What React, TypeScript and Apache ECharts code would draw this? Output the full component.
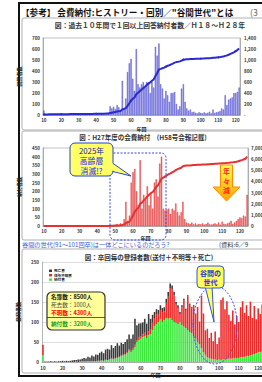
import React, { useEffect, useRef } from "react";
import * as echarts from "echarts";

const FF = '"Noto Sans CJK JP", "Noto Sans", sans-serif';

const range = (a: number, b: number) => { const r: string[] = []; for (let i = a; i <= b; i++) r.push(String(i)); return r; };
const cats1 = range(10, 122);
const cats2 = range(10, 124);
const cats3 = range(10, 125);

// Chart 1: respondents per class (bars) and cumulative (line)
const bars1 = [
  40, 8, 5, 4, 5, 6, 4, 5, 4, 5,
  5, 4, 6, 5, 4, 5, 6, 5, 4, 6,
  5, 4, 5, 6, 4, 5, 6, 5, 7, 6,
  5, 8, 6, 7, 10, 18, 8, 10, 80, 60,
  75, 55, 90, 70, 40, 310, 60, 150, 390, 470,
  510, 330, 220, 600, 280, 250, 280, 300, 250, 300,
  280, 200, 300, 250, 620, 540, 650, 280, 240, 150,
  220, 180, 120, 200, 200, 210, 100, 50, 80, 240,
  280, 120, 60, 40, 50, 25, 30, 20, 15, 25,
  20, 15, 25, 15, 20, 30, 15, 50, 20, 25,
  30, 35, 60, 50, 180, 90, 140, 150, 160, 200,
  200, 210, 250,
];
const line1 = [
  10, 11, 11, 12, 12, 12, 13, 13, 13, 14,
  14, 14, 15, 15, 15, 16, 16, 16, 17, 17,
  17, 18, 18, 18, 19, 19, 19, 20, 20, 21,
  21, 22, 22, 23, 24, 25, 26, 27, 35, 40,
  48, 54, 63, 70, 74, 105, 111, 126, 165, 212,
  263, 296, 318, 378, 406, 431, 459, 489, 514, 544,
  572, 592, 622, 647, 709, 763, 828, 838, 850, 862,
  880, 895, 905, 920, 935, 952, 962, 967, 975, 990,
  1005, 1010, 1012, 1014, 1016, 1018, 1020, 1021, 1022, 1024,
  1025, 1026, 1028, 1030, 1032, 1034, 1036, 1040, 1042, 1045,
  1048, 1052, 1058, 1062, 1075, 1083, 1095, 1110, 1125, 1140,
  1160, 1180, 1210,
];

// Chart 2: H27 payments (bars) and cumulative (line)
const bars2 = [
  2, 1, 2, 1, 2, 1, 1, 2, 1, 2,
  1, 2, 1, 2, 1, 2, 2, 1, 2, 1,
  2, 1, 2, 2, 1, 2, 1, 2, 2, 1,
  2, 2, 1, 2, 3, 2, 3, 2, 4, 5,
  8, 12, 6, 15, 10, 40, 140, 30, 60, 250,
  310, 330, 200, 120, 380, 100, 180, 150, 230, 120,
  190, 100, 250, 270, 170, 360, 400, 100, 90, 95,
  100, 70, 100, 90, 130, 80, 60, 80, 140, 40,
  20, 15, 12, 20, 10, 15, 8, 12, 10, 15,
  8, 12, 20, 10, 8, 12, 15, 10, 20, 8,
  25, 12, 10, 15, 20, 30, 12, 20, 30, 40,
  50, 45, 60, 55, 180,
];
const line2 = [
  0, 0, 0, 0, 0, 0, 0, 0, 0, 0,
  0, 0, 0, 0, 0, 0, 0, 0, 0, 0,
  0, 0, 0, 0, 0, 0, 0, 0, 0, 0,
  0, 0, 0, 0, 5, 5, 10, 10, 15, 20,
  30, 40, 50, 70, 90, 140, 280, 330, 400, 650,
  950, 1300, 1500, 1650, 2000, 2100, 2300, 2450, 2650, 2800,
  2950, 3050, 3250, 3500, 3650, 3950, 4250, 4350, 4450, 4550,
  4650, 4720, 4820, 4900, 5020, 5100, 5160, 5230, 5360, 5400,
  5420, 5430, 5440, 5460, 5470, 5480, 5490, 5500, 5505, 5515,
  5520, 5530, 5545, 5550, 5560, 5570, 5580, 5590, 5605, 5610,
  5630, 5640, 5650, 5665, 5685, 5710, 5720, 5740, 5770, 5810,
  5860, 5910, 5970, 6030, 6230,
];

// Chart 3: registered members per class (stacked)
const paid3 = [
  17, 0, 0, 0, 0, 0, 0, 0, 0, 0,
  0, 0, 0, 0, 0, 0, 0, 1, 0, 1,
  1, 1, 1, 2, 1, 2, 2, 2, 3, 3,
  4, 3, 5, 5, 6, 8, 7, 9, 10, 12,
  14, 16, 18, 22, 28, 25, 30, 37, 50, 55,
  58, 62, 65, 60, 67, 70, 80, 90, 95, 100,
  108, 100, 105, 110, 108, 110, 105, 100, 98, 95,
  100, 92, 88, 85, 80, 75, 72, 65, 58, 50,
  45, 35, 25, 18, 12, 10, 8, 7, 6, 5,
  6, 5, 6, 7, 7, 8, 8, 9, 9, 10,
  10, 12, 12, 13, 14, 15, 16, 18, 20, 22,
  24, 25, 26, 28, 30, 30,
];
const unknown3 = [
  26, 0, 0, 0, 0, 0, 0, 0, 0, 0,
  0, 0, 0, 0, 0, 0, 0, 0, 0, 0,
  0, 0, 0, 0, 0, 0, 0, 0, 0, 0,
  0, 0, 1, 0, 1, 1, 1, 1, 2, 1,
  2, 2, 2, 3, 3, 3, 4, 6, 5, 6,
  6, 7, 8, 6, 10, 12, 18, 20, 25, 18,
  22, 25, 22, 38, 55, 75, 76, 66, 45, 40,
  20, 45, 66, 45, 84, 68, 62, 75, 61, 85,
  55, 130, 95, 60, 70, 50, 65, 45, 70, 40,
  55, 150, 155, 125, 145, 110, 95, 120, 85, 105,
  90, 125, 140, 110, 128, 100, 135, 92, 120, 85,
  110, 95, 118, 90, 105, 95,
];
const dead3 = [
  0, 1, 1, 1, 2, 1, 2, 1, 2, 2,
  3, 2, 3, 2, 3, 4, 5, 4, 6, 5,
  7, 9, 8, 11, 10, 14, 12, 17, 15, 20,
  22, 19, 25, 28, 24, 33, 27, 30, 35, 28,
  32, 27, 30, 32, 38, 30, 35, 65, 37, 35,
  33, 30, 35, 30, 43, 26, 20, 15, 12, 12,
  12, 10, 10, 10, 12, 11, 10, 9, 7, 7,
  5, 5, 4, 3, 3, 3, 3, 2, 2, 2,
  1, 1, 1, 1, 1, 0, 0, 0, 0, 0,
  0, 0, 0, 0, 0, 0, 0, 0, 0, 0,
  0, 0, 0, 0, 0, 0, 0, 0, 0, 0,
  0, 0, 0, 0, 0, 0,
];

const LBL = { fontSize: 4.5, color: "#333", fontFamily: FF, fontWeight: "bold" as const };

const xAx = (gridIndex: number, data: string[], margin: number, nameGap: number) => ({
  type: "category", gridIndex, data, name: "年回", nameLocation: "middle", nameGap,
  nameTextStyle: { fontSize: 5, fontWeight: "bold", color: "#222", fontFamily: FF, lineHeight: 5 },
  axisLine: { lineStyle: { color: "#888", width: 0.6 } },
  axisTick: { show: false },
  axisLabel: { ...LBL, margin, lineHeight: 5, interval: (_i: number, v: string) => Number(v) % 10 === 0 },
});

const yAx = (gridIndex: number, max: number, interval: number, position: string, extra: any = {}) => ({
  type: "value", gridIndex, min: 0, max, interval, position,
  axisLine: { show: true, lineStyle: { color: "#888", width: 0.6 } },
  axisTick: { show: false },
  splitLine: { show: false },
  axisLabel: { ...LBL, margin: 3 },
  nameLocation: "middle", nameRotate: 90,
  nameTextStyle: { fontSize: 5, fontWeight: "bold", color: "#222", fontFamily: FF },
  ...extra,
});

const txt = (x: number, y: number, text: string, size: number, fill: string, extra: any = {}) => ({
  type: "text", x, y, z: 60,
  style: { text, fontSize: size, fill, fontFamily: FF, verticalAlign: "middle", align: "left", lineHeight: size, ...extra },
});

export default function App() {
  const ref = useRef<HTMLDivElement>(null);
  useEffect(() => {
    const chart = echarts.init(ref.current!, null, { renderer: "svg" });
    const arrowFill = new echarts.graphic.LinearGradient(0, 0, 0, 1, [
      { offset: 0, color: "#ffff50" }, { offset: 1, color: "#ffa000" },
    ]);
    chart.setOption({
      animation: false,
      backgroundColor: "#fff",
      textStyle: { fontFamily: FF },
      grid: [
        { left: 43, top: 38, width: 197, height: 77, show: true, borderColor: "#999", borderWidth: 0.6 },
        { left: 43, top: 148, width: 205, height: 78, show: true, borderColor: "#999", borderWidth: 0.6 },
        { left: 42, top: 262, width: 227, height: 100 },
      ],
      xAxis: [xAx(0, cats1, 2, 11), xAx(1, cats2, 2, 9), xAx(2, cats3, 3.5, 10)],
      yAxis: [
        yAx(0, 700, 100, "left", { name: "回答者数", nameGap: 15 }),
        yAx(0, 1400, 200, "right", {
          axisLabel: { ...LBL, margin: 4, formatter: (v: number) => (v === 0 ? "-" : v.toLocaleString("en-US")) },
        }),
        yAx(1, 450, 50, "left", { name: "納付者数", nameGap: 15 }),
        yAx(1, 7000, 1000, "right"),
        yAx(2, 250, 50, "left", {
          name: "登録者数", nameGap: 12,
          splitLine: { show: true, lineStyle: { color: "#c8c8c8", width: 0.6 } },
        }),
      ],
      legend: {
        data: ["死亡者", "住所不明者", "納付者"], orient: "vertical", left: 49, top: 269,
        itemWidth: 3, itemHeight: 2.5, itemGap: 0.8, padding: 0, icon: "rect",
        textStyle: { fontSize: 3.6, fontWeight: "bold", color: "#222", fontFamily: FF, padding: [0, 0, 0, -3] },
      },
      series: [
        { type: "bar", xAxisIndex: 0, yAxisIndex: 0, data: bars1, barCategoryGap: "30%",
          itemStyle: { color: "#9b9bf2", borderColor: "#3535c8", borderWidth: 0.4 } },
        { type: "line", xAxisIndex: 0, yAxisIndex: 1, data: line1, symbol: "circle", symbolSize: 2,
          itemStyle: { color: "#2a2ad0" }, lineStyle: { color: "#2a2ad0", width: 2 } },
        { type: "bar", xAxisIndex: 1, yAxisIndex: 2, data: bars2, barCategoryGap: "30%",
          itemStyle: { color: "#f47c7c", borderColor: "#e01818", borderWidth: 0.4 } },
        { type: "line", xAxisIndex: 1, yAxisIndex: 3, data: line2, symbol: "none",
          lineStyle: { color: "#e83030", width: 2 } },
        { name: "納付者", type: "bar", stack: "m", xAxisIndex: 2, yAxisIndex: 4, data: paid3,
          barCategoryGap: "20%", itemStyle: { color: "#3ce83c" } },
        { name: "住所不明者", type: "bar", stack: "m", xAxisIndex: 2, yAxisIndex: 4, data: unknown3,
          barCategoryGap: "20%", itemStyle: { color: "#f02828" } },
        { name: "死亡者", type: "bar", stack: "m", xAxisIndex: 2, yAxisIndex: 4, data: dead3,
          barCategoryGap: "20%", itemStyle: { color: "#3a3a3a" } },
      ],
      graphic: [
        // frame and panels
        { type: "rect", z: 0, shape: { x: 19, y: 3, width: 290, height: 373 }, style: { fill: "none", stroke: "#111", lineWidth: 2 } },
        { type: "rect", z: 0, shape: { x: 22, y: 18, width: 280, height: 112, r: 2 }, style: { fill: "none", stroke: "#b0b0b0", lineWidth: 1 } },
        { type: "rect", z: 0, shape: { x: 22, y: 131, width: 280, height: 109, r: 2 }, style: { fill: "none", stroke: "#b0b0b0", lineWidth: 1 } },
        { type: "rect", z: 0, shape: { x: 22, y: 249, width: 280, height: 124, r: 2 }, style: { fill: "none", stroke: "#b0b0b0", lineWidth: 1 } },
        // titles
        txt(21, 11.5, "【参考】 会費納付:ヒストリー・回別／\"谷間世代\"とは", 8.6, "#111", { fontWeight: "bold" }),
        txt(250, 11.5, "(3", 8.6, "#666"),
        txt(150, 25, "図：過去１０年間で１回以上回答納付者数／Ｈ１８～Ｈ２８年", 6.8, "#333", { align: "center", fontWeight: "bold" }),
        txt(143, 137, "図：H27年度の会費納付　(H58号会報記載)", 6.5, "#333", { align: "center", fontWeight: "bold" }),
        txt(149, 257, "図：卒回毎の登録者数(送付＋不明等＋死亡)", 6.5, "#333", { align: "center", fontWeight: "bold" }),
        txt(22, 244.5, "谷間の世代(91〜101回卒)は一体どこにいるのだろう?", 6.2, "#3b5bdb"),
        txt(219, 244.5, "(資料:6／9", 6.2, "#333"),
        // chart 2 dashed region
        { type: "rect", z: 50, shape: { x: 110, y: 153, width: 56, height: 87, r: [0, 5, 5, 5] },
          style: { fill: "none", stroke: "#3344ee", lineWidth: 1, lineDash: [2, 1.5] } },
        // 2025 callout
        { type: "polygon", z: 55, shape: { points: [[111, 162], [111, 171], [131, 176]] },
          style: { fill: "#ffff66", stroke: "#2244cc", lineWidth: 1 } },
        { type: "rect", z: 56, shape: { x: 70, y: 143, width: 43, height: 33, r: 5 },
          style: { fill: "#ffff66", stroke: "#2244cc", lineWidth: 1 } },
        { type: "polygon", z: 57, shape: { points: [[112, 162.5], [112, 170.5], [120, 172.5]] },
          style: { fill: "#ffff66" } },
        txt(91.5, 160.5, "{a|2025年}\n{b|高齢層}\n{b|消滅!?}", 7.8, "#1a1aff", {
          align: "center", lineHeight: 9.6,
          rich: { a: { fontSize: 7.8, fill: "#1a1aa0", fontFamily: FF, lineHeight: 9.6 }, b: { fontSize: 7.8, fill: "#1a1aff", fontFamily: FF, lineHeight: 9.6 } },
        }),
        // down arrow
        { type: "polygon", z: 55, shape: { points: [[220.5, 165], [232.5, 165], [232.5, 187], [240, 187], [226.5, 201], [213, 187], [220.5, 187]] },
          style: { fill: arrowFill, stroke: "#ff8c00", lineWidth: 1 } },
        txt(226.5, 171, "年", 6.8, "#ff1a1a", { align: "center", fontWeight: "bold" }),
        txt(226.5, 180.5, "々", 6.8, "#ff1a1a", { align: "center", fontWeight: "bold" }),
        txt(226.5, 190, "減", 6.8, "#ff1a1a", { align: "center", fontWeight: "bold" }),
        // chart 3 ellipse and callout
        { type: "ellipse", z: 50, shape: { cx: 215, cy: 325, rx: 22, ry: 39 },
          style: { fill: "none", stroke: "#4455ee", lineWidth: 1, lineDash: [2, 1.5] } },
        { type: "polygon", z: 55, shape: { points: [[205, 286], [212, 286], [214, 322]] },
          style: { fill: "#ffff55", stroke: "#3355dd", lineWidth: 1 } },
        { type: "rect", z: 56, shape: { x: 197, y: 266, width: 27, height: 22, r: 4 },
          style: { fill: "#ffff55", stroke: "#3355dd", lineWidth: 1 } },
        { type: "rect", z: 57, shape: { x: 205.5, y: 285, width: 6, height: 2.5 }, style: { fill: "#ffff55" } },
        txt(210.5, 277, "谷間の\n世代", 7, "#2233dd", { align: "center", fontWeight: "bold", lineHeight: 9 }),
        // summary box
        { type: "rect", z: 55, shape: { x: 47, y: 292, width: 58, height: 38, r: 5 },
          style: { fill: "#ffff99", stroke: "#333", lineWidth: 1.2 } },
        { type: "line", z: 56, shape: { x1: 47, y1: 317.5, x2: 105, y2: 317.5 }, style: { stroke: "#333", lineWidth: 0.8 } },
        txt(51, 297, "名簿数：8500人", 5.6, "#111", { fontWeight: "bold" }),
        txt(51, 304.8, "死去数：1000人", 5.6, "#444"),
        txt(51, 312.6, "不明数：4300人", 5.6, "#ff0000", { fontWeight: "bold" }),
        txt(51, 324, "納付数：3200人", 5.6, "#1f9e1f", { fontWeight: "bold" }),
      ],
    });
    return () => chart.dispose();
  }, []);
  return (
    <div style={{ position: "fixed", left: 0, top: 0, width: 262, height: 382, overflow: "hidden", background: "#fff" }}>
      <div ref={ref} style={{ width: 290, height: 382 }} />
    </div>
  );
}
